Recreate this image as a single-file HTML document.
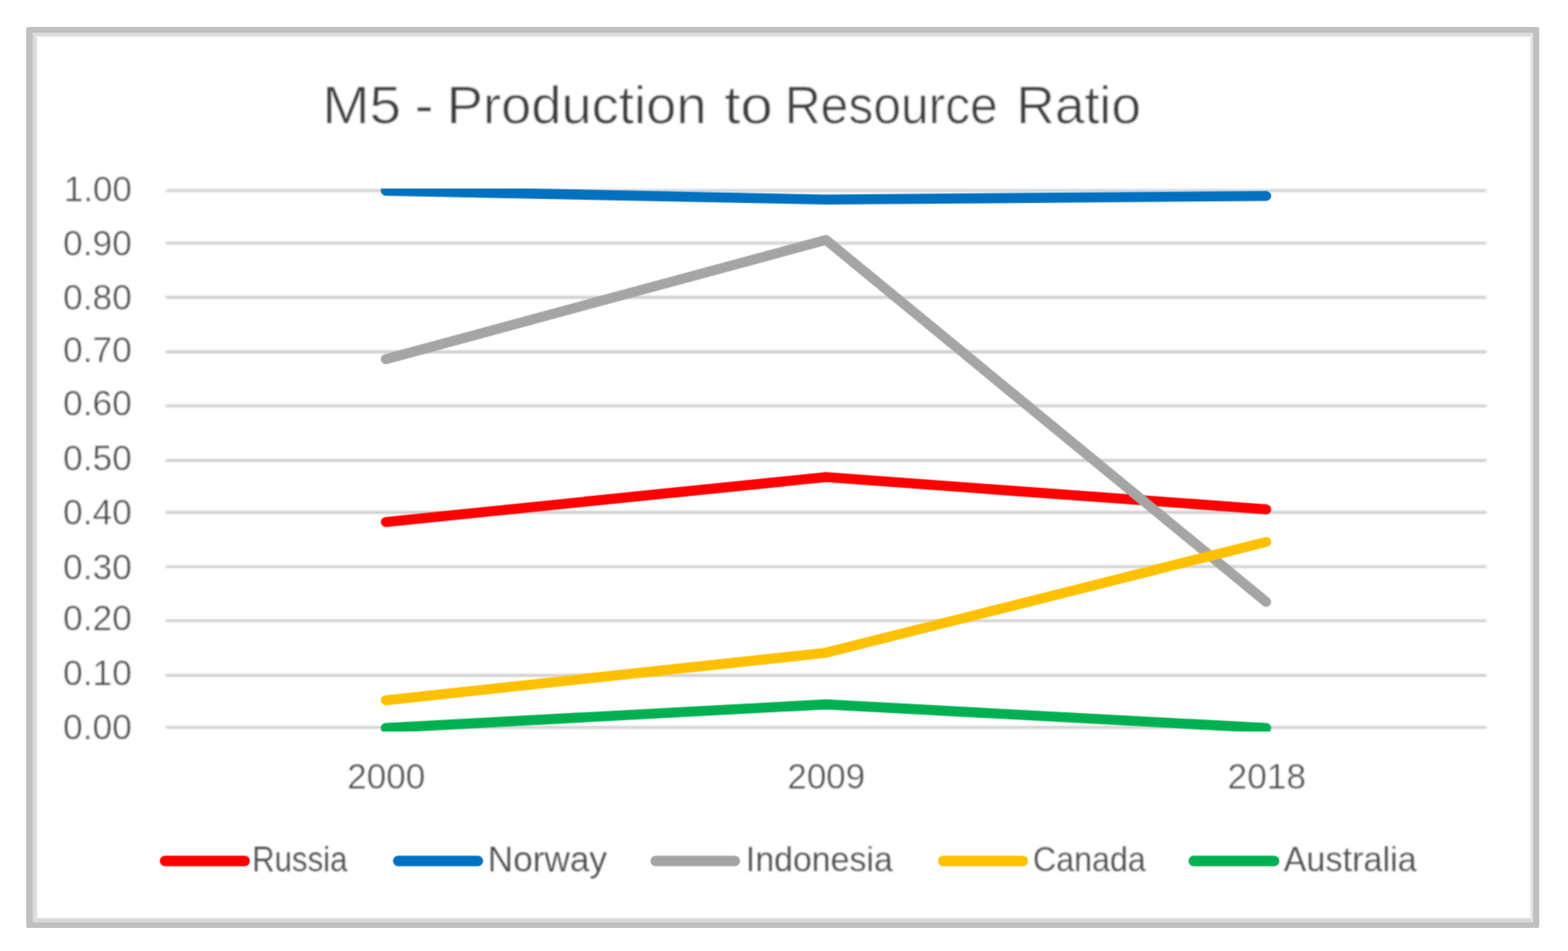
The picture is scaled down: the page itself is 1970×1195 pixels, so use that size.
<!DOCTYPE html>
<html lang="en">
<head>
<meta charset="utf-8">
<title>M5 - Production to Resource Ratio</title>
<style>
html,body{margin:0;padding:0;background:#fff;}
body{width:1970px;height:1195px;overflow:hidden;position:relative;}
svg{position:absolute;left:0;top:0;display:block;}
text{font-family:"Liberation Sans", sans-serif;fill:#3c3c3c;white-space:pre;stroke:#fff;stroke-width:0.5px;paint-order:fill stroke;stroke-linejoin:round;}
.t{stroke-width:0.6px;fill:#3e3e3e;}
.l{stroke-width:0.25px;fill:#484848;}
</style>
</head>
<body>
<svg width="1970" height="1195" viewBox="0 0 1970 1195">
<defs>
<clipPath id="plot"><rect x="168.3" y="237.0" width="1739.2" height="682.3"/></clipPath>
<filter id="soft" filterUnits="userSpaceOnUse" x="0" y="0" width="1970" height="1195" color-interpolation-filters="sRGB"><feConvolveMatrix order="3" preserveAlpha="false" edgeMode="none" kernelMatrix="0.02890 0.11220 0.02890 0.11220 0.43560 0.11220 0.02890 0.11220 0.02890"/></filter>
<filter id="softg" filterUnits="userSpaceOnUse" x="0" y="0" width="1970" height="1195"><feGaussianBlur stdDeviation="1.4"/></filter>
<filter id="softt" filterUnits="userSpaceOnUse" x="0" y="0" width="1970" height="1195"><feGaussianBlur stdDeviation="0.8"/></filter>
<linearGradient id="gl" x1="0" y1="0" x2="1" y2="0"><stop offset="0" stop-color="#d8d8d8"/><stop offset="0.62" stop-color="#dcdcdc"/><stop offset="1" stop-color="#fff"/></linearGradient>
<linearGradient id="gt" x1="0" y1="0" x2="0" y2="1"><stop offset="0" stop-color="#dadada"/><stop offset="0.6" stop-color="#dcdcdc"/><stop offset="1" stop-color="#fff"/></linearGradient>
<linearGradient id="gr" x1="1" y1="0" x2="0" y2="0"><stop offset="0" stop-color="#efefef"/><stop offset="0.25" stop-color="#dedede"/><stop offset="1" stop-color="#fff"/></linearGradient>
<linearGradient id="gb" x1="0" y1="1" x2="0" y2="0"><stop offset="0" stop-color="#dedede"/><stop offset="0.2" stop-color="#d8d8d8"/><stop offset="0.6" stop-color="#d9d9d9"/><stop offset="0.8" stop-color="#ebebeb"/><stop offset="1" stop-color="#fff"/></linearGradient>
</defs>
<g>
<rect x="33.0" y="34.1" width="1900.9" height="1131.9" rx="2.5" fill="#c0c0c0"/>
<rect x="41.0" y="41.0" width="1885.0" height="1118.0" fill="#fff"/>
<rect x="41.0" y="41.0" width="1885.0" height="6.2" fill="url(#gt)"/>
<rect x="41.0" y="1152.3" width="1885.0" height="6.7" fill="url(#gb)"/>
<path d="M41.0 41.0 l6.8 6.2 V1152.3 L41.0 1159.0 Z" fill="url(#gl)"/>
<path d="M1926.0 41.0 l-5 6.2 V1152.3 L1926.0 1159.0 Z" fill="url(#gr)"/>
</g>

<g filter="url(#softg)" stroke="#adadad" stroke-width="2.2" fill="none">
<line x1="208.3" y1="239.5" x2="1867.5" y2="239.5"/>
<line x1="208.3" y1="305.5" x2="1867.5" y2="305.5"/>
<line x1="208.3" y1="373.6" x2="1867.5" y2="373.6"/>
<line x1="208.3" y1="442.1" x2="1867.5" y2="442.1"/>
<line x1="208.3" y1="510.0" x2="1867.5" y2="510.0"/>
<line x1="208.3" y1="578.6" x2="1867.5" y2="578.6"/>
<line x1="208.3" y1="643.8" x2="1867.5" y2="643.8"/>
<line x1="208.3" y1="712.0" x2="1867.5" y2="712.0"/>
<line x1="208.3" y1="780.0" x2="1867.5" y2="780.0"/>
<line x1="208.3" y1="848.6" x2="1867.5" y2="848.6"/>
<line x1="208.3" y1="914.0" x2="1867.5" y2="914.0"/>
</g>
<g filter="url(#soft)">
<g clip-path="url(#plot)" fill="none" stroke-width="12.6" stroke-linecap="round" stroke-linejoin="round">
<polyline stroke="#ff0000" points="484.7,655.9 1037.8,599.5 1590.8,640.0"/>
<polyline stroke="#0070c0" points="484.7,239.6 1037.8,250.8 1590.8,246.2"/>
<polyline stroke="#a5a5a5" points="484.7,451.3 1037.8,301.5 1590.8,756.3"/>
<polyline stroke="#ffc000" points="484.7,879.9 1037.8,820.2 1590.8,681.0"/>
<polyline stroke="#00b050" points="484.7,914.8 1037.8,885.1 1590.8,914.8"/>
</g>
<g fill="none" stroke-width="13.2" stroke-linecap="round">
<line stroke="#ff0000" x1="207.29999999999998" y1="1081.8" x2="307.4" y2="1081.8"/>
<line stroke="#0070c0" x1="500.3" y1="1081.8" x2="600.4" y2="1081.8"/>
<line stroke="#a5a5a5" x1="823.8000000000001" y1="1081.8" x2="923.3" y2="1081.8"/>
<line stroke="#ffc000" x1="1185.0" y1="1081.8" x2="1285.1000000000001" y2="1081.8"/>
<line stroke="#00b050" x1="1499.8" y1="1081.8" x2="1600.8000000000002" y2="1081.8"/>
</g>
</g>
<g filter="url(#softt)">
<text class="t" font-size="66" y="154.80"><tspan x="404.93" textLength="99.10" lengthAdjust="spacingAndGlyphs">M5</tspan> <tspan x="521.09" textLength="23.50" lengthAdjust="spacingAndGlyphs">-</tspan> <tspan x="561.18" textLength="326.43" lengthAdjust="spacingAndGlyphs">Production</tspan> <tspan x="910.09" textLength="60.89" lengthAdjust="spacingAndGlyphs">to</tspan> <tspan x="985.95" textLength="267.67" lengthAdjust="spacingAndGlyphs">Resource</tspan> <tspan x="1276.87" textLength="156.69" lengthAdjust="spacingAndGlyphs">Ratio</tspan></text>
<g>
<text class="a" font-size="44.3" transform="translate(80.25 253.10) scale(0.9902 1.0000)">1.00</text>
<text class="a" font-size="44.3" transform="translate(79.35 320.90) scale(1.0007 1.0000)">0.90</text>
<text class="a" font-size="44.3" transform="translate(79.35 388.50) scale(1.0007 1.0000)">0.80</text>
<text class="a" font-size="44.3" transform="translate(79.35 454.50) scale(1.0007 1.0000)">0.70</text>
<text class="a" font-size="44.3" transform="translate(79.35 522.40) scale(1.0007 1.0000)">0.60</text>
<text class="a" font-size="44.3" transform="translate(79.35 590.90) scale(1.0007 1.0000)">0.50</text>
<text class="a" font-size="44.3" transform="translate(79.35 658.90) scale(1.0007 1.0000)">0.40</text>
<text class="a" font-size="44.3" transform="translate(79.35 727.50) scale(1.0007 1.0000)">0.30</text>
<text class="a" font-size="44.3" transform="translate(79.35 792.40) scale(1.0007 1.0000)">0.20</text>
<text class="a" font-size="44.3" transform="translate(79.35 860.90) scale(1.0007 1.0000)">0.10</text>
<text class="a" font-size="44.3" transform="translate(79.35 929.40) scale(1.0007 1.0000)">0.00</text>
</g>
<g>
<text class="a" font-size="45" transform="translate(436.16 991.20) scale(0.9796 1.0000)">2000</text>
<text class="a" font-size="45" transform="translate(989.17 991.20) scale(0.9775 1.0000)">2009</text>
<text class="a" font-size="45" transform="translate(1542.25 991.20) scale(0.9866 1.0000)">2018</text>
</g>
<g>
<text class="l" font-size="44.6" transform="translate(316.79 1095.40) scale(0.8783 1.0000)">Russia</text>
<text class="l" font-size="44.6" transform="translate(612.87 1095.40) scale(0.9913 1.0000)">Norway</text>
<text class="l" font-size="44.6" transform="translate(937.06 1095.40) scale(0.9542 1.0000)">Indonesia</text>
<text class="l" font-size="44.6" transform="translate(1297.71 1095.40) scale(0.9072 1.0000)">Canada</text>
<text class="l" font-size="44.6" transform="translate(1612.70 1095.40) scale(0.9641 1.0000)">Australia</text>
</g>
</g>
</svg>
</body>
</html>
